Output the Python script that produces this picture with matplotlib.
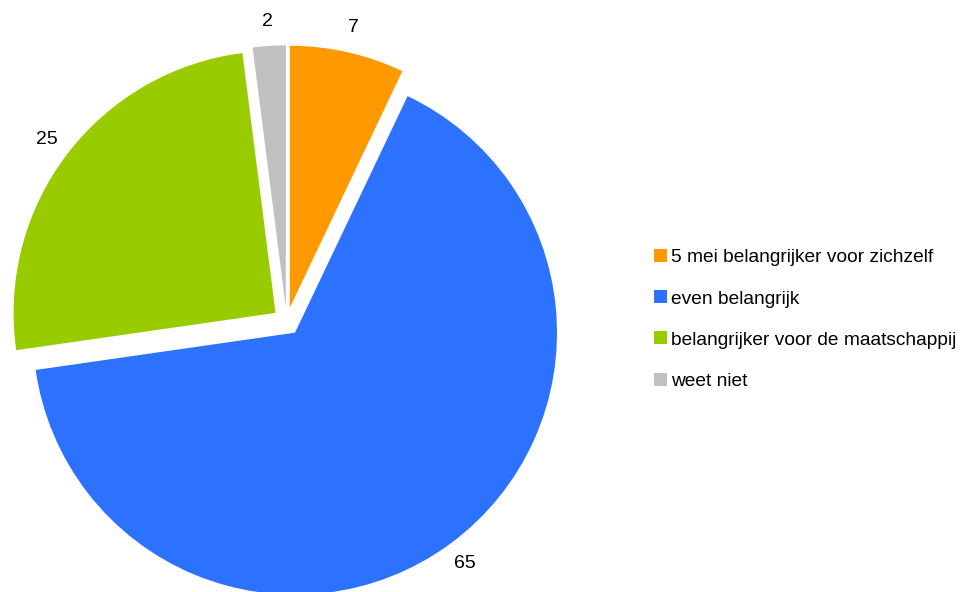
import matplotlib
matplotlib.use("Agg")
import matplotlib.pyplot as plt

# Chart data
categories = ["5 mei belangrijker voor zichzelf", "even belangrijk",
              "belangrijker voor de maatschappij", "weet niet"]
values = [7, 65, 25, 2]
colors = ["#FF9900", "#2C72FF", "#99CC00", "#C0C0C0"]

plt.rcParams["font.family"] = ["Liberation Sans", "DejaVu Sans"]

W, H = 966, 592
fig = plt.figure(figsize=(W / 100, H / 100), dpi=100)
ax = fig.add_axes([0, 0, 1, 1])

# Pie in pixel units so it lands where the reference has it.
# explode is in data units here (pixels), not a fraction of the radius.
radius = 262
wedges, texts, autotexts = ax.pie(
    values,
    colors=colors,
    startangle=90,
    counterclock=False,
    explode=[14] * len(values),
    center=(286.7, H - 321.4),
    radius=radius,
    autopct=lambda p: "{:.0f}".format(p * sum(values) / 100),
    pctdistance=1.095,
    wedgeprops={"linewidth": 0},
    textprops={"fontsize": 14, "color": "black"},
)
ax.set_xlim(0, W)
ax.set_ylim(0, H)
ax.set_aspect("equal")
ax.axis("off")

fig.legend(
    wedges, categories,
    loc="center left",
    bbox_to_anchor=(654 / W, (H - 319.5) / H),
    frameon=False,
    fontsize=13.8,
    handlelength=0.66,
    handleheight=0.66,
    handletextpad=0.25,
    labelspacing=1.25,
    borderpad=0,
    borderaxespad=0,
)

fig.savefig("out.png", dpi=100)
